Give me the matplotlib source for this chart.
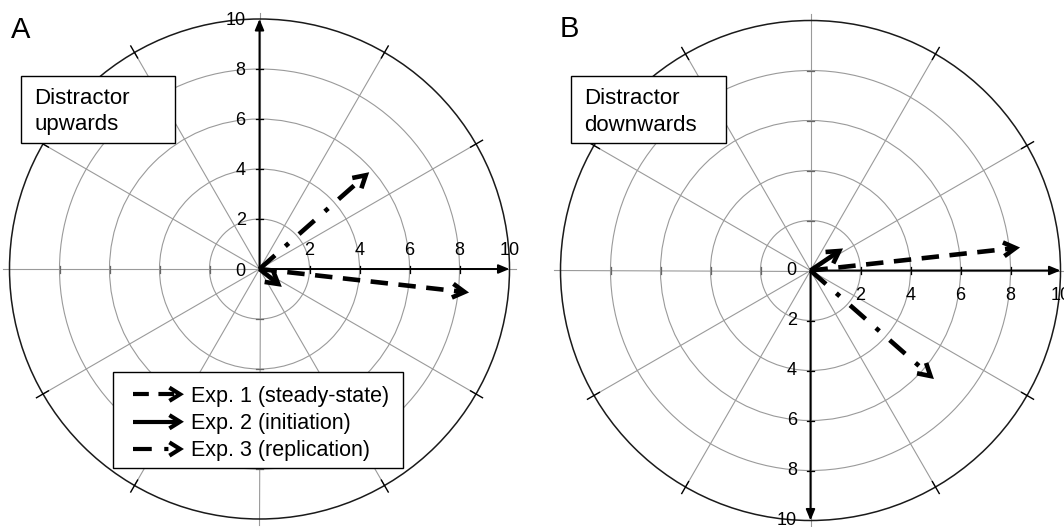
import numpy as np
import matplotlib
matplotlib.use("Agg")
import matplotlib.pyplot as plt
from matplotlib.patches import Circle, Rectangle

plt.rcParams['font.family'] = ['Liberation Sans', 'DejaVu Sans']

# Mean deviation vectors (x, y components) for each experiment
experiments = ['Exp. 1 (steady-state)', 'Exp. 2 (initiation)', 'Exp. 3 (replication)']
up_x = [8.2, 0.75, 4.25]
up_y = [-0.92, -0.6, 3.75]
down_x = [8.2, 1.15, 4.8]
down_y = [0.9, 0.78, -4.22]

ring_values = [2, 4, 6, 8]
axis_labels = ['0', '2', '4', '6', '8', '10']
spoke_angles = np.arange(0, 360, 30)

LW = 3.3
line_styles = [(0, (3.8, 2.3)), '-', (0, (4.5, 3, 1, 3))]
GRID = '#9a9a9a'


def draw_arrow(ax, x0, y0, x1, y1, ls, head=0.55, half=30, lw=LW, z=5):
    ang = np.arctan2(y1 - y0, x1 - x0)
    ux, uy = np.cos(ang), np.sin(ang)
    back = 0.12
    ax.plot([x0, x1 - back * ux], [y0, y1 - back * uy], color='k', lw=lw,
            linestyle=ls, dash_capstyle='butt', solid_capstyle='butt', zorder=z)
    a1 = ang + np.pi - np.radians(half)
    a2 = ang + np.pi + np.radians(half)
    ax.plot([x1 + head * np.cos(a1), x1, x1 + head * np.cos(a2)],
            [y1 + head * np.sin(a1), y1, y1 + head * np.sin(a2)],
            color='k', lw=lw, solid_joinstyle='miter', solid_capstyle='butt', zorder=z)


def draw_grid(ax, axis_angles):
    for r in ring_values:
        ax.add_patch(Circle((0, 0), r, fill=False, ec=GRID, lw=0.8, zorder=1))
    ax.add_patch(Circle((0, 0), 10, fill=False, ec='#1a1a1a', lw=1.1, zorder=2))
    for a in spoke_angles:
        t = np.radians(a)
        c, s = np.cos(t), np.sin(t)
        if a % 90 == 0:
            ax.plot([0, 10.25 * c], [0, 10.25 * s], color=GRID, lw=0.8, zorder=1)
            tick_col = 'k' if a in axis_angles else '#666666'
            for r in ring_values:
                ax.plot([r * c - 0.14 * s, r * c + 0.14 * s],
                        [r * s + 0.14 * c, r * s - 0.14 * c],
                        color=tick_col, lw=0.9, zorder=3)
        else:
            ax.plot([0, 10 * c], [0, 10 * s], color=GRID, lw=0.8, zorder=1)
            ax.plot([9.75 * c, 10.3 * c], [9.75 * s, 10.3 * s], color='k', lw=1.0, zorder=2)
    for a in axis_angles:
        t = np.radians(a)
        ax.annotate('', xy=(10 * np.cos(t), 10 * np.sin(t)), xytext=(0, 0),
                    arrowprops=dict(arrowstyle='-|>,head_length=0.65,head_width=0.27',
                                    color='k', lw=1.4, shrinkA=0, shrinkB=0),
                    zorder=4)


def text_box(ax, x0, y0, x1, y1, lines, tx, baselines):
    ax.add_patch(Rectangle((x0, y0), x1 - x0, y1 - y0, facecolor='white',
                           edgecolor='k', lw=1.0, zorder=6))
    for line, yb in zip(lines, baselines):
        ax.text(tx, yb, line, fontsize=16, ha='left', va='baseline', zorder=7)


fig = plt.figure(figsize=(10.64, 5.27), dpi=100)
S = 25.0  # pixels per data unit
axA = fig.add_axes([0, 0, 0.5, 1])
axB = fig.add_axes([0.5, 0, 0.5, 1])
axA.set_xlim(-259.5 / S, (532 - 259.5) / S)
axA.set_ylim(-(527 - 269) / S, 269 / S)
axB.set_xlim(-(810.5 - 532) / S, (1064 - 810.5) / S)
axB.set_ylim(-(527 - 270.5) / S, 270.5 / S)
for ax in (axA, axB):
    ax.axis('off')

tick_fs = 13

# Panel A: distractor upwards
draw_grid(axA, [0, 90])
for v, lab in zip([0] + ring_values + [10], axis_labels):
    if v == 0:
        axA.text(-0.55, -0.12, lab, fontsize=tick_fs, ha='right', va='center')
        continue
    axA.text(-0.55, v - 0.05, lab, fontsize=tick_fs, ha='right', va='center')
    axA.text(v, 0.75, lab, fontsize=tick_fs, ha='center', va='center')
for x, y, ls in zip(up_x, up_y, line_styles):
    draw_arrow(axA, 0, 0, x, y, ls)
text_box(axA, -9.54, 5.04, -3.38, 7.72, ['Distractor', 'upwards'], -9.0,
         [(269 - 104.3) / S, (269 - 130) / S])

# Legend
axA.add_patch(Rectangle((-5.85, -7.97), 11.58, 3.84, facecolor='white',
                        edgecolor='k', lw=1.0, zorder=6))
leg_line_y = [-5.01, -6.11, -7.2]
leg_text_y = [-5.31, -6.4, -7.47]
for name, ls, yl, yt in zip(experiments, line_styles, leg_line_y, leg_text_y):
    draw_arrow(axA, -5.06, yl, -3.18, yl, ls, head=0.5, half=32, lw=3.0, z=7)
    axA.text(-2.75, yt, name, fontsize=15.5, ha='left', va='baseline', zorder=7)

# Panel B: distractor downwards
draw_grid(axB, [0, 270])
for v, lab in zip([0] + ring_values + [10], axis_labels):
    if v == 0:
        axB.text(-0.55, 0, lab, fontsize=tick_fs, ha='right', va='center')
        continue
    axB.text(-0.55, -v, lab, fontsize=tick_fs, ha='right', va='center')
    axB.text(v, -1.0, lab, fontsize=tick_fs, ha='center', va='center')
for x, y, ls in zip(down_x, down_y, line_styles):
    draw_arrow(axB, 0, 0, x, y, ls)
text_box(axB, -9.57, 5.1, -3.39, 7.78, ['Distractor', 'downwards'], -9.06,
         [(270.5 - 104.1) / S, (270.5 - 130.8) / S])

fig.text(11.0 / 1064, 1 - 37.7 / 527, 'A', fontsize=21, ha='left', va='baseline')
fig.text(560.0 / 1064, 1 - 37.2 / 527, 'B', fontsize=21, ha='left', va='baseline')

fig.savefig('out.png', dpi=100)
